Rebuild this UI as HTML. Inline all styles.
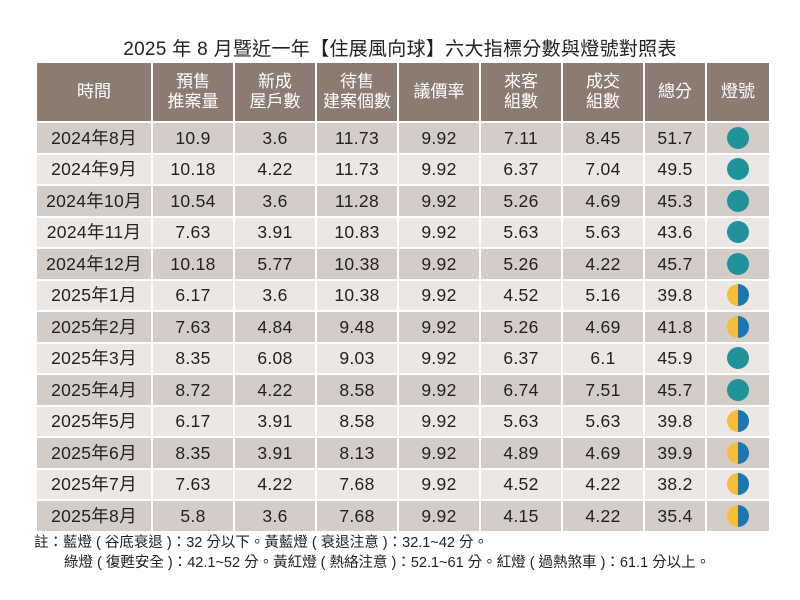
<!DOCTYPE html>
<html><head><meta charset="utf-8"><style>
body{margin:0;background:#fff;width:800px;height:600px;overflow:hidden;font-family:"Liberation Sans","Noto Sans CJK TC",sans-serif;color:#222}
.title{position:absolute;top:34px;left:0;width:800px;text-align:center;font-size:19px;color:#222;letter-spacing:0.3px}
table{position:absolute;left:35px;top:61px;border-collapse:collapse;table-layout:fixed}
td,th{border:2px solid #fff;text-align:center;padding:0;font-weight:normal;vertical-align:middle}
th{background:#8c7b71;color:#fff;height:58px;line-height:20px;font-size:17px}
td{height:29.5px;line-height:20px;font-size:17.5px;letter-spacing:0.3px}
tr.d td{background:#d4ccc7}
tr.l td{background:#ebe7e4}
.c{display:inline-block;width:22px;height:22px;border-radius:50%;background:#1f929a;vertical-align:middle}
.h{display:inline-block;width:22px;height:22px;border-radius:50%;background:linear-gradient(90deg,#f5bd3b 50%,#1b77b1 50%);vertical-align:middle}
.note{position:absolute;left:34px;font-size:14.5px;color:#222;line-height:18px}
</style></head><body>
<div class="title">2025 年 8 月暨近一年【住展風向球】六大指標分數與燈號對照表</div>
<table>
<colgroup><col style="width:116px"><col style="width:82px"><col style="width:82px"><col style="width:82px"><col style="width:82px"><col style="width:82px"><col style="width:82px"><col style="width:62px"><col style="width:64px"></colgroup>
<tr><th>時間</th><th>預售<br>推案量</th><th>新成<br>屋戶數</th><th>待售<br>建案個數</th><th>議價率</th><th>來客<br>組數</th><th>成交<br>組數</th><th>總分</th><th>燈號</th></tr>
<tr class="d"><td>2024年8月</td><td>10.9</td><td>3.6</td><td>11.73</td><td>9.92</td><td>7.11</td><td>8.45</td><td>51.7</td><td><span class="c"></span></td></tr>
<tr class="l"><td>2024年9月</td><td>10.18</td><td>4.22</td><td>11.73</td><td>9.92</td><td>6.37</td><td>7.04</td><td>49.5</td><td><span class="c"></span></td></tr>
<tr class="d"><td>2024年10月</td><td>10.54</td><td>3.6</td><td>11.28</td><td>9.92</td><td>5.26</td><td>4.69</td><td>45.3</td><td><span class="c"></span></td></tr>
<tr class="l"><td>2024年11月</td><td>7.63</td><td>3.91</td><td>10.83</td><td>9.92</td><td>5.63</td><td>5.63</td><td>43.6</td><td><span class="c"></span></td></tr>
<tr class="d"><td>2024年12月</td><td>10.18</td><td>5.77</td><td>10.38</td><td>9.92</td><td>5.26</td><td>4.22</td><td>45.7</td><td><span class="c"></span></td></tr>
<tr class="l"><td>2025年1月</td><td>6.17</td><td>3.6</td><td>10.38</td><td>9.92</td><td>4.52</td><td>5.16</td><td>39.8</td><td><span class="h"></span></td></tr>
<tr class="d"><td>2025年2月</td><td>7.63</td><td>4.84</td><td>9.48</td><td>9.92</td><td>5.26</td><td>4.69</td><td>41.8</td><td><span class="h"></span></td></tr>
<tr class="l"><td>2025年3月</td><td>8.35</td><td>6.08</td><td>9.03</td><td>9.92</td><td>6.37</td><td>6.1</td><td>45.9</td><td><span class="c"></span></td></tr>
<tr class="d"><td>2025年4月</td><td>8.72</td><td>4.22</td><td>8.58</td><td>9.92</td><td>6.74</td><td>7.51</td><td>45.7</td><td><span class="c"></span></td></tr>
<tr class="l"><td>2025年5月</td><td>6.17</td><td>3.91</td><td>8.58</td><td>9.92</td><td>5.63</td><td>5.63</td><td>39.8</td><td><span class="h"></span></td></tr>
<tr class="d"><td>2025年6月</td><td>8.35</td><td>3.91</td><td>8.13</td><td>9.92</td><td>4.89</td><td>4.69</td><td>39.9</td><td><span class="h"></span></td></tr>
<tr class="l"><td>2025年7月</td><td>7.63</td><td>4.22</td><td>7.68</td><td>9.92</td><td>4.52</td><td>4.22</td><td>38.2</td><td><span class="h"></span></td></tr>
<tr class="d"><td>2025年8月</td><td>5.8</td><td>3.6</td><td>7.68</td><td>9.92</td><td>4.15</td><td>4.22</td><td>35.4</td><td><span class="h"></span></td></tr>
</table>
<div class="note" style="top:534px">註：藍燈 ( 谷底衰退 )：32 分以下。黃藍燈 ( 衰退注意 )：32.1~42 分。</div>
<div class="note" style="top:554px;left:64px">綠燈 ( 復甦安全 )：42.1~52 分。黃紅燈 ( 熱絡注意 )：52.1~61 分。紅燈 ( 過熱煞車 )：61.1 分以上。</div>
</body></html>
